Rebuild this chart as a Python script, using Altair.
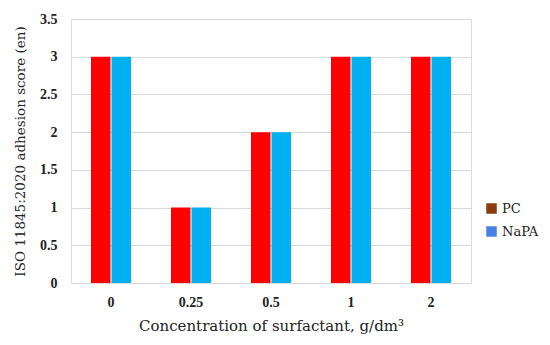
import altair as alt
import pandas as pd

categories = ["0", "0.25", "0.5", "1", "2"]
pc_values = [3, 1, 2, 3, 3]
napa_values = [3, 1, 2, 3, 3]
series = ["PC", "NaPA"]

rows = []
for c, p, n in zip(categories, pc_values, napa_values):
    rows.append({"conc": c, "series": "PC", "score": p})
    rows.append({"conc": c, "series": "NaPA", "score": n})
df = pd.DataFrame(rows)

FONT = "Liberation Serif"
TFONT = "DejaVu Serif"

x = alt.X("conc:N", sort=categories,
          scale=alt.Scale(paddingInner=0.5, paddingOuter=0.25),
          axis=alt.Axis(title="Concentration of surfactant, g/dm³", labelAngle=0,
                        labelFont=FONT, labelFontSize=14, labelFontWeight="bold",
                        labelColor="#222", titleFont=TFONT, titleFontSize=15,
                        titleFontWeight="normal", titleColor="#222", ticks=False,
                        domain=False, labelPadding=12, titlePadding=9))
y = alt.Y("score:Q",
          scale=alt.Scale(domain=[0, 3.5]),
          axis=alt.Axis(title="ISO 11845:2020 adhesion score (en)", values=[0, 0.5, 1, 1.5, 2, 2.5, 3, 3.5],
                        format="~g", labelFont=FONT, labelFontSize=14, labelFontWeight="bold",
                        labelColor="#222", titleFont=TFONT, titleFontSize=13.5,
                        titleFontWeight="normal", titleColor="#222", ticks=False,
                        domain=False, labelPadding=14, titlePadding=12,
                        gridColor="#d9d9d9"))
xo = alt.XOffset("series:N", sort=series, scale=alt.Scale(paddingInner=0.05))

bars = alt.Chart(df).mark_bar().encode(
    x=x, y=y, xOffset=xo,
    color=alt.Color("series:N", sort=series,
                    scale=alt.Scale(domain=series, range=["#ff0000", "#00b0f0"]),
                    legend=None),
)

legend_layer = alt.Chart(df).mark_bar(height=0).encode(
    x=x, y=alt.value(264), xOffset=xo,
    color=alt.Color("series:N", sort=series,
                    scale=alt.Scale(domain=series, range=["#8b3a12", "#4a80e6"]),
                    legend=alt.Legend(title=None, orient="none", legendX=414, legendY=183,
                                      labelFont=TFONT, labelFontSize=13, labelColor="#222",
                                      symbolType="square", symbolSize=110, rowPadding=9,
                                      symbolStrokeWidth=0, symbolOpacity=1, labelOffset=4)),
)

chart = alt.layer(bars, legend_layer).resolve_scale(color="independent").properties(
    width=400, height=264,
    autosize=alt.AutoSizeParams(type="none"),
    padding={"left": 63, "top": 11, "right": 71, "bottom": 54},
).configure_view(stroke=None).configure(background="white")

chart.save("out.html", embed_options={"renderer": "svg", "actions": False})
